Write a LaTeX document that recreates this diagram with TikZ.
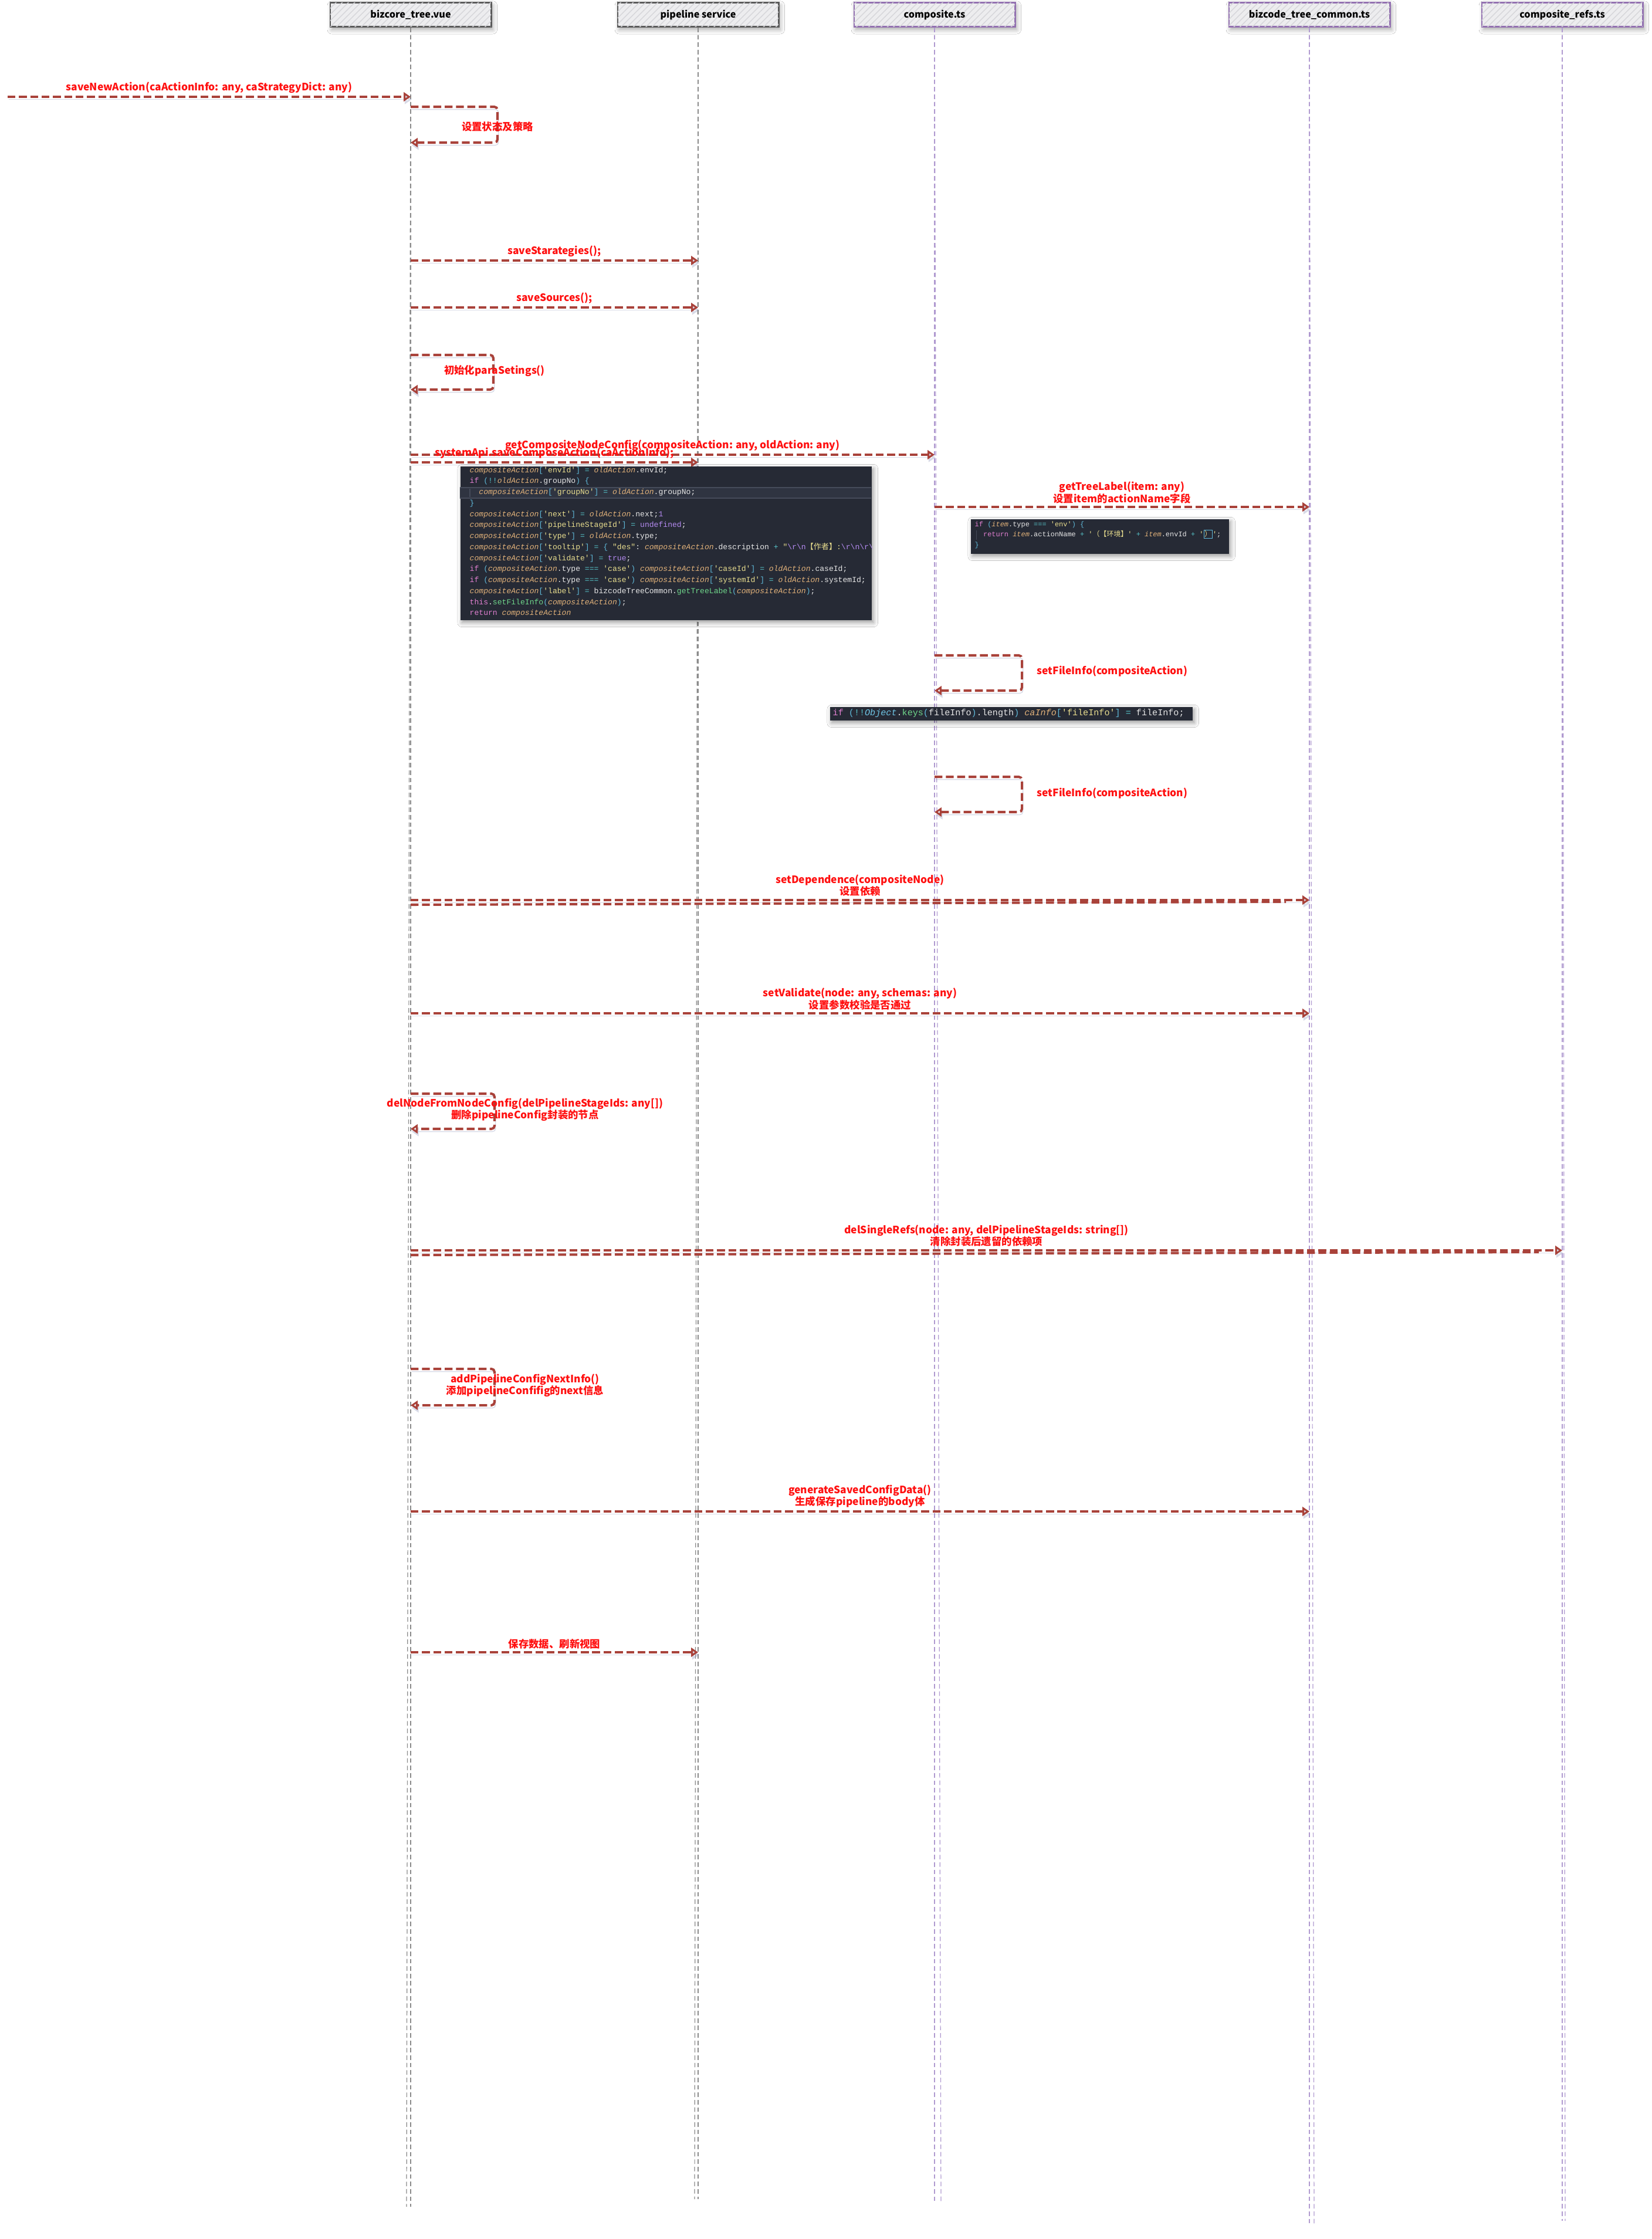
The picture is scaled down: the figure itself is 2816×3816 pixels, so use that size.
\documentclass[tikz,border=0pt]{standalone}
\usepackage{fontspec}
\setmainfont{Noto Sans CJK SC}
\setmonofont{Liberation Mono}
\newfontfamily\cjkfont{Noto Sans CJK SC}
\usetikzlibrary{arrows.meta,patterns,shadows.blur,calc}

% palette
\definecolor{msgc}{HTML}{A9423A}
\definecolor{labc}{HTML}{FF1010}
\definecolor{shadec}{HTML}{7F86B0}
\definecolor{hdrfill}{HTML}{EDEDEF}
\definecolor{hdrhatch}{HTML}{D6D6DA}
\definecolor{graybd}{HTML}{5A5A5A}
\definecolor{purpbd}{HTML}{9270B0}
\definecolor{lifegray}{HTML}{8A8A8A}
\definecolor{lifepurp}{HTML}{B09AD0}
\definecolor{codebg}{HTML}{262A35}
\definecolor{codeband}{HTML}{2F3441}
\definecolor{codeline}{HTML}{454B5A}
\definecolor{codetxt}{HTML}{E6E6E6}
\definecolor{codevarc}{HTML}{E2B27A}
\definecolor{codebrc}{HTML}{5FB8D8}
\definecolor{codestrc}{HTML}{E8DD8E}
\definecolor{codekwc}{HTML}{E07FD0}
\definecolor{codefnc}{HTML}{6FD68A}
\definecolor{codeconstc}{HTML}{B48AF0}
\definecolor{codeopc}{HTML}{56C2C8}
\definecolor{codeobjc}{HTML}{6FC6E6}

% syntax colouring helpers for the code snippets
\newcommand\cvar[1]{{\itshape\color{codevarc}#1}}
\newcommand\cbr[1]{{\color{codebrc}#1}}
\newcommand\cstr[1]{{\color{codestrc}#1}}
\newcommand\ckw[1]{{\color{codekwc}#1}}
\newcommand\cfn[1]{{\color{codefnc}#1}}
\newcommand\cconst[1]{{\color{codeconstc}#1}}
\newcommand\cop[1]{{\color{codeopc}#1}}
\newcommand\cobj[1]{{\itshape\color{codeobjc}#1}}
\newcommand\cbsl{\textbackslash}

\begin{document}
\begin{tikzpicture}[x=0.01cm, y=-0.01cm,
  hdr/.style={draw=graybd, line width=0.8pt, fill=hdrfill, minimum width=2.74cm,
    minimum height=0.41cm, inner sep=0pt,
    font=\bfseries\fontsize{4.6pt}{5pt}\selectfont,
    blur shadow={shadow xshift=0.8pt, shadow yshift=-1.4pt, shadow blur steps=6, shadow opacity=35},
    postaction={pattern=north east lines, pattern color=hdrhatch}},
  hdrp/.style={hdr, draw=purpbd},
  life/.style={draw=lifegray, line width=0.35pt, dash pattern=on 2.2pt off 1.4pt},
  lifep/.style={life, draw=lifepurp},
  msg/.style={draw=msgc, line width=1.15pt, dash pattern=on 3.8pt off 1.7pt,
    -{Triangle[open, length=3.4pt, width=4.4pt, line width=1.1pt]},
    preaction={draw=shadec, draw opacity=0.3, transform canvas={shift={(0.5pt,-1.3pt)}}}},
  stroke2/.style={draw=msgc, line width=1.15pt, dash pattern=on 3.8pt off 1.7pt},
  selfloop/.style={msg, rounded corners=1.5pt},
  lab/.style={text=labc, inner sep=0pt, align=center,
    font=\bfseries\fontsize{4.95pt}{5.7pt}\selectfont},
  codebox/.style={fill=codebg, draw=none, inner sep=0pt, anchor=north west,
    blur shadow={shadow xshift=0.8pt, shadow yshift=-1.2pt, shadow blur steps=5, shadow opacity=40}},
  codetext/.style={text=codetxt, inner sep=0pt, anchor=north west, align=left},
]
\fill[white] (0,0) rectangle (2816,3816);
\useasboundingbox (0,0) rectangle (2816,3816);

% ---------- participants ----------
\node[hdr]  (h1) at (700,25)  {bizcore\_tree.vue};
\node[hdr]  (h2) at (1190,25) {pipeline service};
\node[hdrp] (h3) at (1593,25) {composite.ts};
\node[hdrp] (h4) at (2232,25) {bizcode\_tree\_common.ts};
\node[hdrp] (h5) at (2663,25) {composite\_refs.ts};

% lifeline ends (each lifeline is a doubled hand-drawn stroke)
\coordinate (e1) at (700,3761);  \coordinate (e1b) at (693,3761);
\coordinate (e2) at (1190,3748); \coordinate (e2b) at (1184,3748);
\coordinate (e3) at (1593,3756); \coordinate (e3b) at (1604,3756);
\coordinate (e4) at (2232,3792); \coordinate (e4b) at (2240,3792);
\coordinate (e5) at (2663,3785); \coordinate (e5b) at (2668,3785);
\draw[life]  (h1.south) -- (e1);  \draw[life]  (h1.south) -- (e1b);
\draw[life]  (h2.south) -- (e2);  \draw[life]  (h2.south) -- (e2b);
\draw[lifep] (h3.south) -- (e3);  \draw[lifep] (h3.south) -- (e3b);
\draw[lifep] (h4.south) -- (e4);  \draw[lifep] (h4.south) -- (e4b);
\draw[lifep] (h5.south) -- (e5);  \draw[lifep] (h5.south) -- (e5b);

% ---------- message rows ----------
\coordinate (s0)  at (13,165);
\coordinate (r1)  at (0,165);
\coordinate (r3)  at (0,444);
\coordinate (r4)  at (0,524);
\coordinate (r6)  at (0,775);
\coordinate (r7)  at (0,788);
\coordinate (r8)  at (0,864);
\coordinate (r10) at (0,1534);
\coordinate (r10b) at (0,1542);
\coordinate (r11) at (0,1727);
\coordinate (r13) at (0,2131);
\coordinate (r13b) at (0,2139);
\coordinate (r15) at (0,2576);
\coordinate (r16) at (0,2816);

\draw[msg] (s0) -- (h1 |- r1)
  node[lab, midway, above=1.2pt] (t1) {saveNewAction(caActionInfo: any, caStrategyDict: any)};

% self call: state and strategy
\coordinate (l1t) at (848,182); \coordinate (l1b) at (848,243);
\draw[selfloop] (h1 |- l1t) -- (l1t) -- (l1b) -- (h1 |- l1b);
\node[lab] (t2) at (848,216) {设置状态及策略};

\draw[msg] (h1 |- r3) -- (h2 |- r3) node[lab, midway, above=1.2pt] (t3) {saveStarategies();};
\draw[msg] (h1 |- r4) -- (h2 |- r4) node[lab, midway, above=1.2pt] (t4) {saveSources();};

\coordinate (l2t) at (841,605); \coordinate (l2b) at (841,664);
\draw[selfloop] (h1 |- l2t) -- (l2t) -- (l2b) -- (h1 |- l2b);
\node[lab] (t5) at (843,632) {初始化paraSetings()};

\draw[msg] (h1 |- r6) -- (h3 |- r6)
  node[lab, midway, above=1.2pt] (t6) {getCompositeNodeConfig(compositeAction: any, oldAction: any)};
\draw[msg] (h1 |- r7) -- (h2 |- r7)
  node[lab, midway, above=1.2pt] (t7) {systemApi.saveComposeAction(caActionInfo);};

\draw[msg] (h3 |- r8) -- (h4 |- r8)
  node[lab, midway, above=1.2pt] (t8) {getTreeLabel(item: any)\\设置item的actionName字段};

\coordinate (l3t) at (1742,1117); \coordinate (l3b) at (1742,1177);
\draw[selfloop] (h3 |- l3t) -- (l3t) -- (l3b) -- (h3 |- l3b);
\node[lab, anchor=west] (t9) at (1767,1144) {setFileInfo(compositeAction)};

\coordinate (l4t) at (1742,1324); \coordinate (l4b) at (1742,1384);
\draw[selfloop] (h3 |- l4t) -- (l4t) -- (l4b) -- (h3 |- l4b);
\node[lab, anchor=west] (t10) at (1767,1352) {setFileInfo(compositeAction)};

\draw[msg] (h1 |- r10) -- (h4 |- r10)
  node[lab, midway, above=1.2pt] (t11) {setDependence(compositeNode)\\设置依赖};
\draw[stroke2] (h1 |- r10b) -- ($(h4 |- r10)+(-40,3)$);

\draw[msg] (h1 |- r11) -- (h4 |- r11)
  node[lab, midway, above=1.2pt] (t12) {setValidate(node: any, schemas: any)\\设置参数校验是否通过};

\coordinate (l5t) at (843,1864); \coordinate (l5b) at (843,1924);
\draw[selfloop] (h1 |- l5t) -- (l5t) -- (l5b) -- (h1 |- l5b);
\node[lab] (t13) at (895,1891) {delNodeFromNodeConfig(delPipelineStageIds: any[])\\删除pipelineConfig封装的节点};

\draw[msg] (h1 |- r13) -- (h5 |- r13)
  node[lab, midway, above=1.2pt] (t14) {delSingleRefs(node: any, delPipelineStageIds: string[])\\清除封装后遗留的依赖项};
\draw[stroke2] (h1 |- r13b) -- ($(h5 |- r13)+(-40,3)$);

\coordinate (l6t) at (843,2333); \coordinate (l6b) at (843,2395);
\draw[selfloop] (h1 |- l6t) -- (l6t) -- (l6b) -- (h1 |- l6b);
\node[lab] (t15) at (895,2361) {addPipelineConfigNextInfo()\\添加pipelineConfifig的next信息};

\draw[msg] (h1 |- r15) -- (h4 |- r15)
  node[lab, midway, above=1.2pt] (t16) {generateSavedConfigData()\\生成保存pipeline的body体};

\draw[msg] (h1 |- r16) -- (h2 |- r16)
  node[lab, midway, above=1.2pt] (t17) {保存数据、刷新视图};

% ---------- code snippet: getCompositeNodeConfig body ----------
\node[codebox, minimum width=7.01cm, minimum height=2.62cm] (c1) at (784,794) {};
\fill[codeband] (784,831) rectangle (1485,849);
\draw[codeline, line width=0.3pt] (784,831) -- (1485,831) (784,849) -- (1485,849);
\draw[codeline, line width=0.3pt] (801,833) -- (801,847);
\begin{scope}
\clip (c1.north west) rectangle (c1.south east);
\node[codetext, font=\ttfamily\fontsize{3.72pt}{5.33pt}\selectfont] (c1t) at (800,795) {%
\cvar{compositeAction}\cbr{[}\cstr{'envId'}\cbr{]} \cop{=} \cvar{oldAction}.envId;\\
\ckw{if} \cbr{(}\cop{!!}\cvar{oldAction}.groupNo\cbr{)} \cbr{\{}\\
\phantom{xx}\cvar{compositeAction}\cbr{[}\cstr{'groupNo'}\cbr{]} \cop{=} \cvar{oldAction}.groupNo;\\
\cbr{\}}\\
\cvar{compositeAction}\cbr{[}\cstr{'next'}\cbr{]} \cop{=} \cvar{oldAction}.next;\cconst{1}\\
\cvar{compositeAction}\cbr{[}\cstr{'pipelineStageId'}\cbr{]} \cop{=} \cconst{undefined};\\
\cvar{compositeAction}\cbr{[}\cstr{'type'}\cbr{]} \cop{=} \cvar{oldAction}.type;\\
\cvar{compositeAction}\cbr{[}\cstr{'tooltip'}\cbr{]} \cop{=} \cbr{\{} \cstr{"des"}: \cvar{compositeAction}.description \cop{+} \cstr{"}\cconst{\cbsl r\cbsl n}\cstr{{\cjkfont 【作者】}:}\cconst{\cbsl r\cbsl n\cbsl r\cbsl n}\\
\cvar{compositeAction}\cbr{[}\cstr{'validate'}\cbr{]} \cop{=} \cconst{true};\\
\ckw{if} \cbr{(}\cvar{compositeAction}.type \cop{===} \cstr{'case'}\cbr{)} \cvar{compositeAction}\cbr{[}\cstr{'caseId'}\cbr{]} \cop{=} \cvar{oldAction}.caseId;\\
\ckw{if} \cbr{(}\cvar{compositeAction}.type \cop{===} \cstr{'case'}\cbr{)} \cvar{compositeAction}\cbr{[}\cstr{'systemId'}\cbr{]} \cop{=} \cvar{oldAction}.systemId;\\
\cvar{compositeAction}\cbr{[}\cstr{'label'}\cbr{]} \cop{=} bizcodeTreeCommon.\cfn{getTreeLabel}\cbr{(}\cvar{compositeAction}\cbr{)};\\
\ckw{this}.\cfn{setFileInfo}\cbr{(}\cvar{compositeAction}\cbr{)};\\
\ckw{return} \cvar{compositeAction}};
\end{scope}

% ---------- code snippet: getTreeLabel ----------
\node[codebox, minimum width=4.40cm, minimum height=0.59cm] (c2) at (1654,884) {};
\draw[codeline, line width=0.3pt] (1664,904) -- (1664,920);
\begin{scope}
\clip (c2.north west) rectangle (c2.south east);
\node[codetext, font=\ttfamily\fontsize{3.4pt}{4.96pt}\selectfont] (c2t) at (1661,888) {%
\ckw{if} \cbr{(}\cvar{item}.type \cop{===} \cstr{'env'}\cbr{)} \cbr{\{}\\
\phantom{xx}\ckw{return} \cvar{item}.actionName \cop{+} \cstr{'{\cjkfont （【环境】}'} \cop{+} \cvar{item}.envId \cop{+} \cstr{'{\setlength\fboxsep{0.2pt}\setlength\fboxrule{0.3pt}\fcolorbox{codebrc}{codebg}{\cjkfont ）}}'};\\
\cbr{\}}};
\end{scope}

% ---------- code snippet: fileInfo assignment ----------
\node[codebox, minimum width=6.18cm, minimum height=0.23cm] (c3) at (1414,1204) {};
\node[codetext, anchor=west, font=\ttfamily\fontsize{4.3pt}{5pt}\selectfont] (c3t) at (1419,1215.5) {%
\ckw{if} \cbr{(}\cop{!!}\cobj{Object}.\cfn{keys}\cbr{(}fileInfo\cbr{)}.length\cbr{)} \cvar{caInfo}\cbr{[}\cstr{'fileInfo'}\cbr{]} \cop{=} fileInfo;};

\end{tikzpicture}
\end{document}
